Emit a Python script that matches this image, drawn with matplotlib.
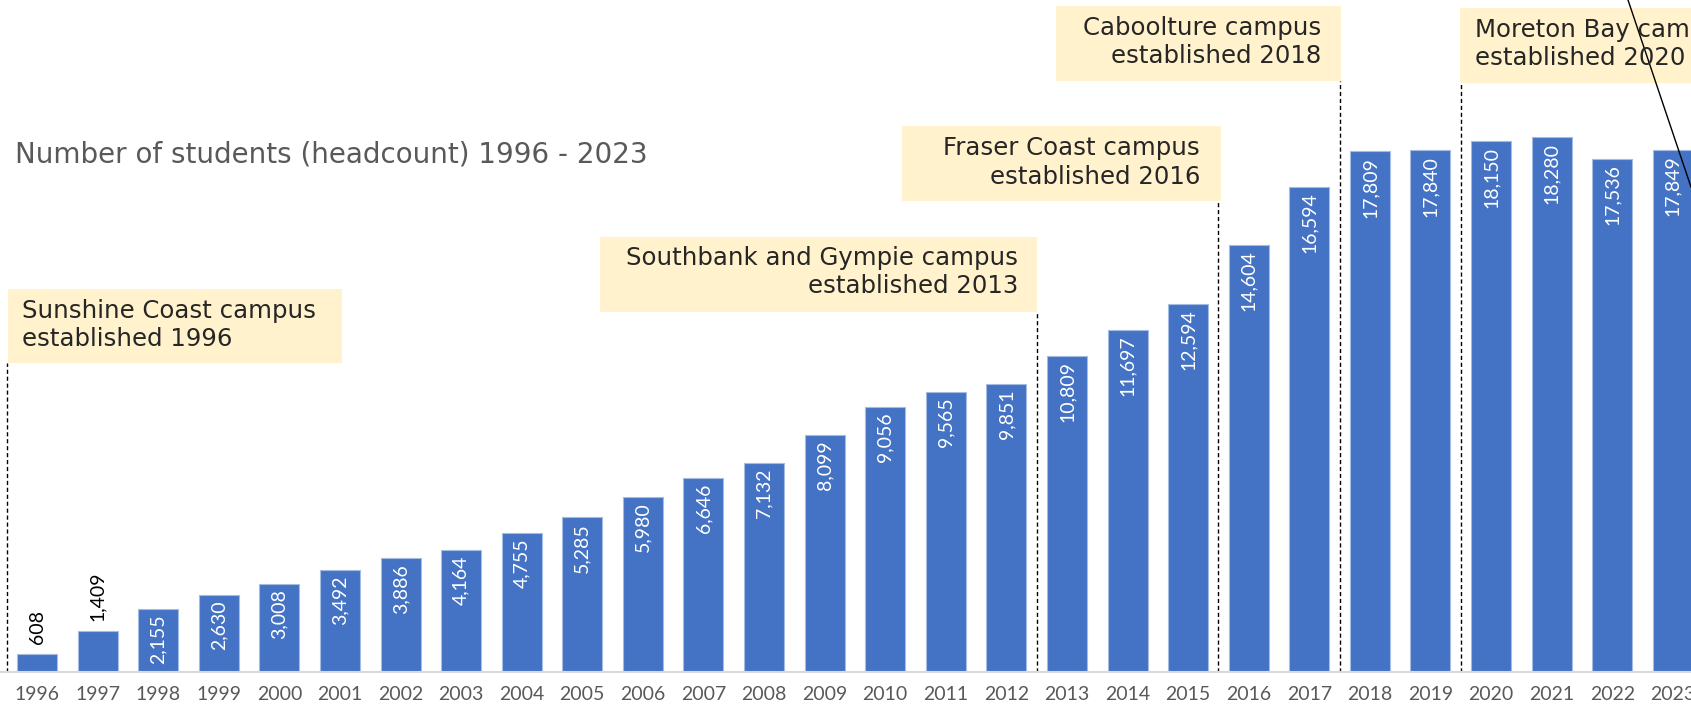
import numpy as np
import matplotlib
matplotlib.use("Agg")
import matplotlib.pyplot as plt
from matplotlib.patches import Rectangle
from matplotlib.lines import Line2D

# ---------------- data ----------------
years = [str(y) for y in range(1996, 2024)]
students = [608, 1409, 2155, 2630, 3008, 3492, 3886, 4164, 4755, 5285,
            5980, 6646, 7132, 8099, 9056, 9565, 9851, 10809, 11697, 12594,
            14604, 16594, 17809, 17840, 18150, 18280, 17536, 17849]
title = "Number of students (headcount) 1996 - 2023"
campus_line1 = ["Sunshine Coast campus", "Southbank and Gympie campus",
                "Fraser Coast campus", "Caboolture campus", "Moreton Bay campus"]
campus_line2 = ["established 1996", "established 2013", "established 2016",
                "established 2018", "established 2020"]
campus_year = ["1996", "2013", "2016", "2018", "2020"]

# ---------------- figure ----------------
W, H = 1691, 710
fig = plt.figure(figsize=(W / 100, H / 100), dpi=100)
fig.patch.set_facecolor("white")


def fx(x):
    return x / W


def fy(y):
    return 1 - y / H


base_px = 672
ax = fig.add_axes([0, (H - base_px) / H, 1, base_px / H])
x = np.arange(len(years))
ax.bar(x, students, width=0.66, color="#4472C4", edgecolor="#A4BCE4",
       linewidth=0.8, zorder=2)
ax.set_xlim(-0.611, 27.30)
ax.set_ylim(0, 22974)
ax.set_xticks(x)
ax.set_xticklabels(years, fontsize=14, color="#595959", family="Lato")
ax.tick_params(axis="x", length=0, pad=10)
ax.set_yticks([])
for s in ["top", "left", "right"]:
    ax.spines[s].set_visible(False)
ax.spines["bottom"].set_color("#D9D9D9")
ax.spines["bottom"].set_linewidth(1.5)
ax.spines["bottom"].set_zorder(3)

for xi, v in zip(x, students):
    label = f"{v:,}"
    if v < 2000:
        ax.annotate(label, (xi, v), xytext=(0, 7), textcoords="offset points",
                    rotation=90, ha="center", va="bottom", fontsize=14,
                    family="Lato", color="black")
    else:
        ax.annotate(label, (xi, v), xytext=(0, -4), textcoords="offset points",
                    rotation=90, ha="center", va="top", fontsize=14,
                    family="Lato", color="white")

# ---------------- title ----------------
fig.text(fx(15), fy(154), title, ha="left", va="center", fontsize=20,
         color="#595959", family="DejaVu Sans")

# ---------------- campus annotations ----------------
# box geometry in pixels: (left, right, top, bottom, text_x, align, line1_y, line2_y)
boxes = [
    (8, 342, 289, 363, 22, "left", 311, 339),
    (600, 1037, 237, 312, 1018, "right", 258, 286),
    (902, 1221, 126, 201, 1200, "right", 148, 177),
    (1056, 1341, 6, 81, 1321, "right", 28, 56),
    (1460, 1800, 8, 83, 1475, "left", 30, 58),
]
for (l, r, t, b, tx, al, y1, y2), t1, t2, cy in zip(boxes, campus_line1,
                                                    campus_line2, campus_year):
    fig.add_artist(Rectangle((fx(l), fy(b)), fx(r - l), (b - t) / H,
                             transform=fig.transFigure, facecolor="#FFF2CC",
                             edgecolor="none", zorder=1))
    fig.text(fx(tx), fy(y1), t1, ha=al, va="center", fontsize=17.6,
             color="#262626", zorder=4)
    fig.text(fx(tx), fy(y2), t2, ha=al, va="center", fontsize=17.6,
             color="#262626", zorder=4)
    # dashed line at the boundary before the establishment year
    xb = years.index(cy) - 0.5
    ybox = (base_px - b) / base_px
    ax.plot([xb, xb], [0, ybox], transform=ax.get_xaxis_transform(),
            color="black", linestyle=(0, (3, 2)), linewidth=1, zorder=3,
            clip_on=False)

# leader line coming from outside the crop
fig.add_artist(Line2D([fx(1628), fx(1691)], [fy(0), fy(187)],
                      transform=fig.transFigure, color="black", linewidth=1))

fig.savefig("out.png", dpi=100, facecolor="white")
